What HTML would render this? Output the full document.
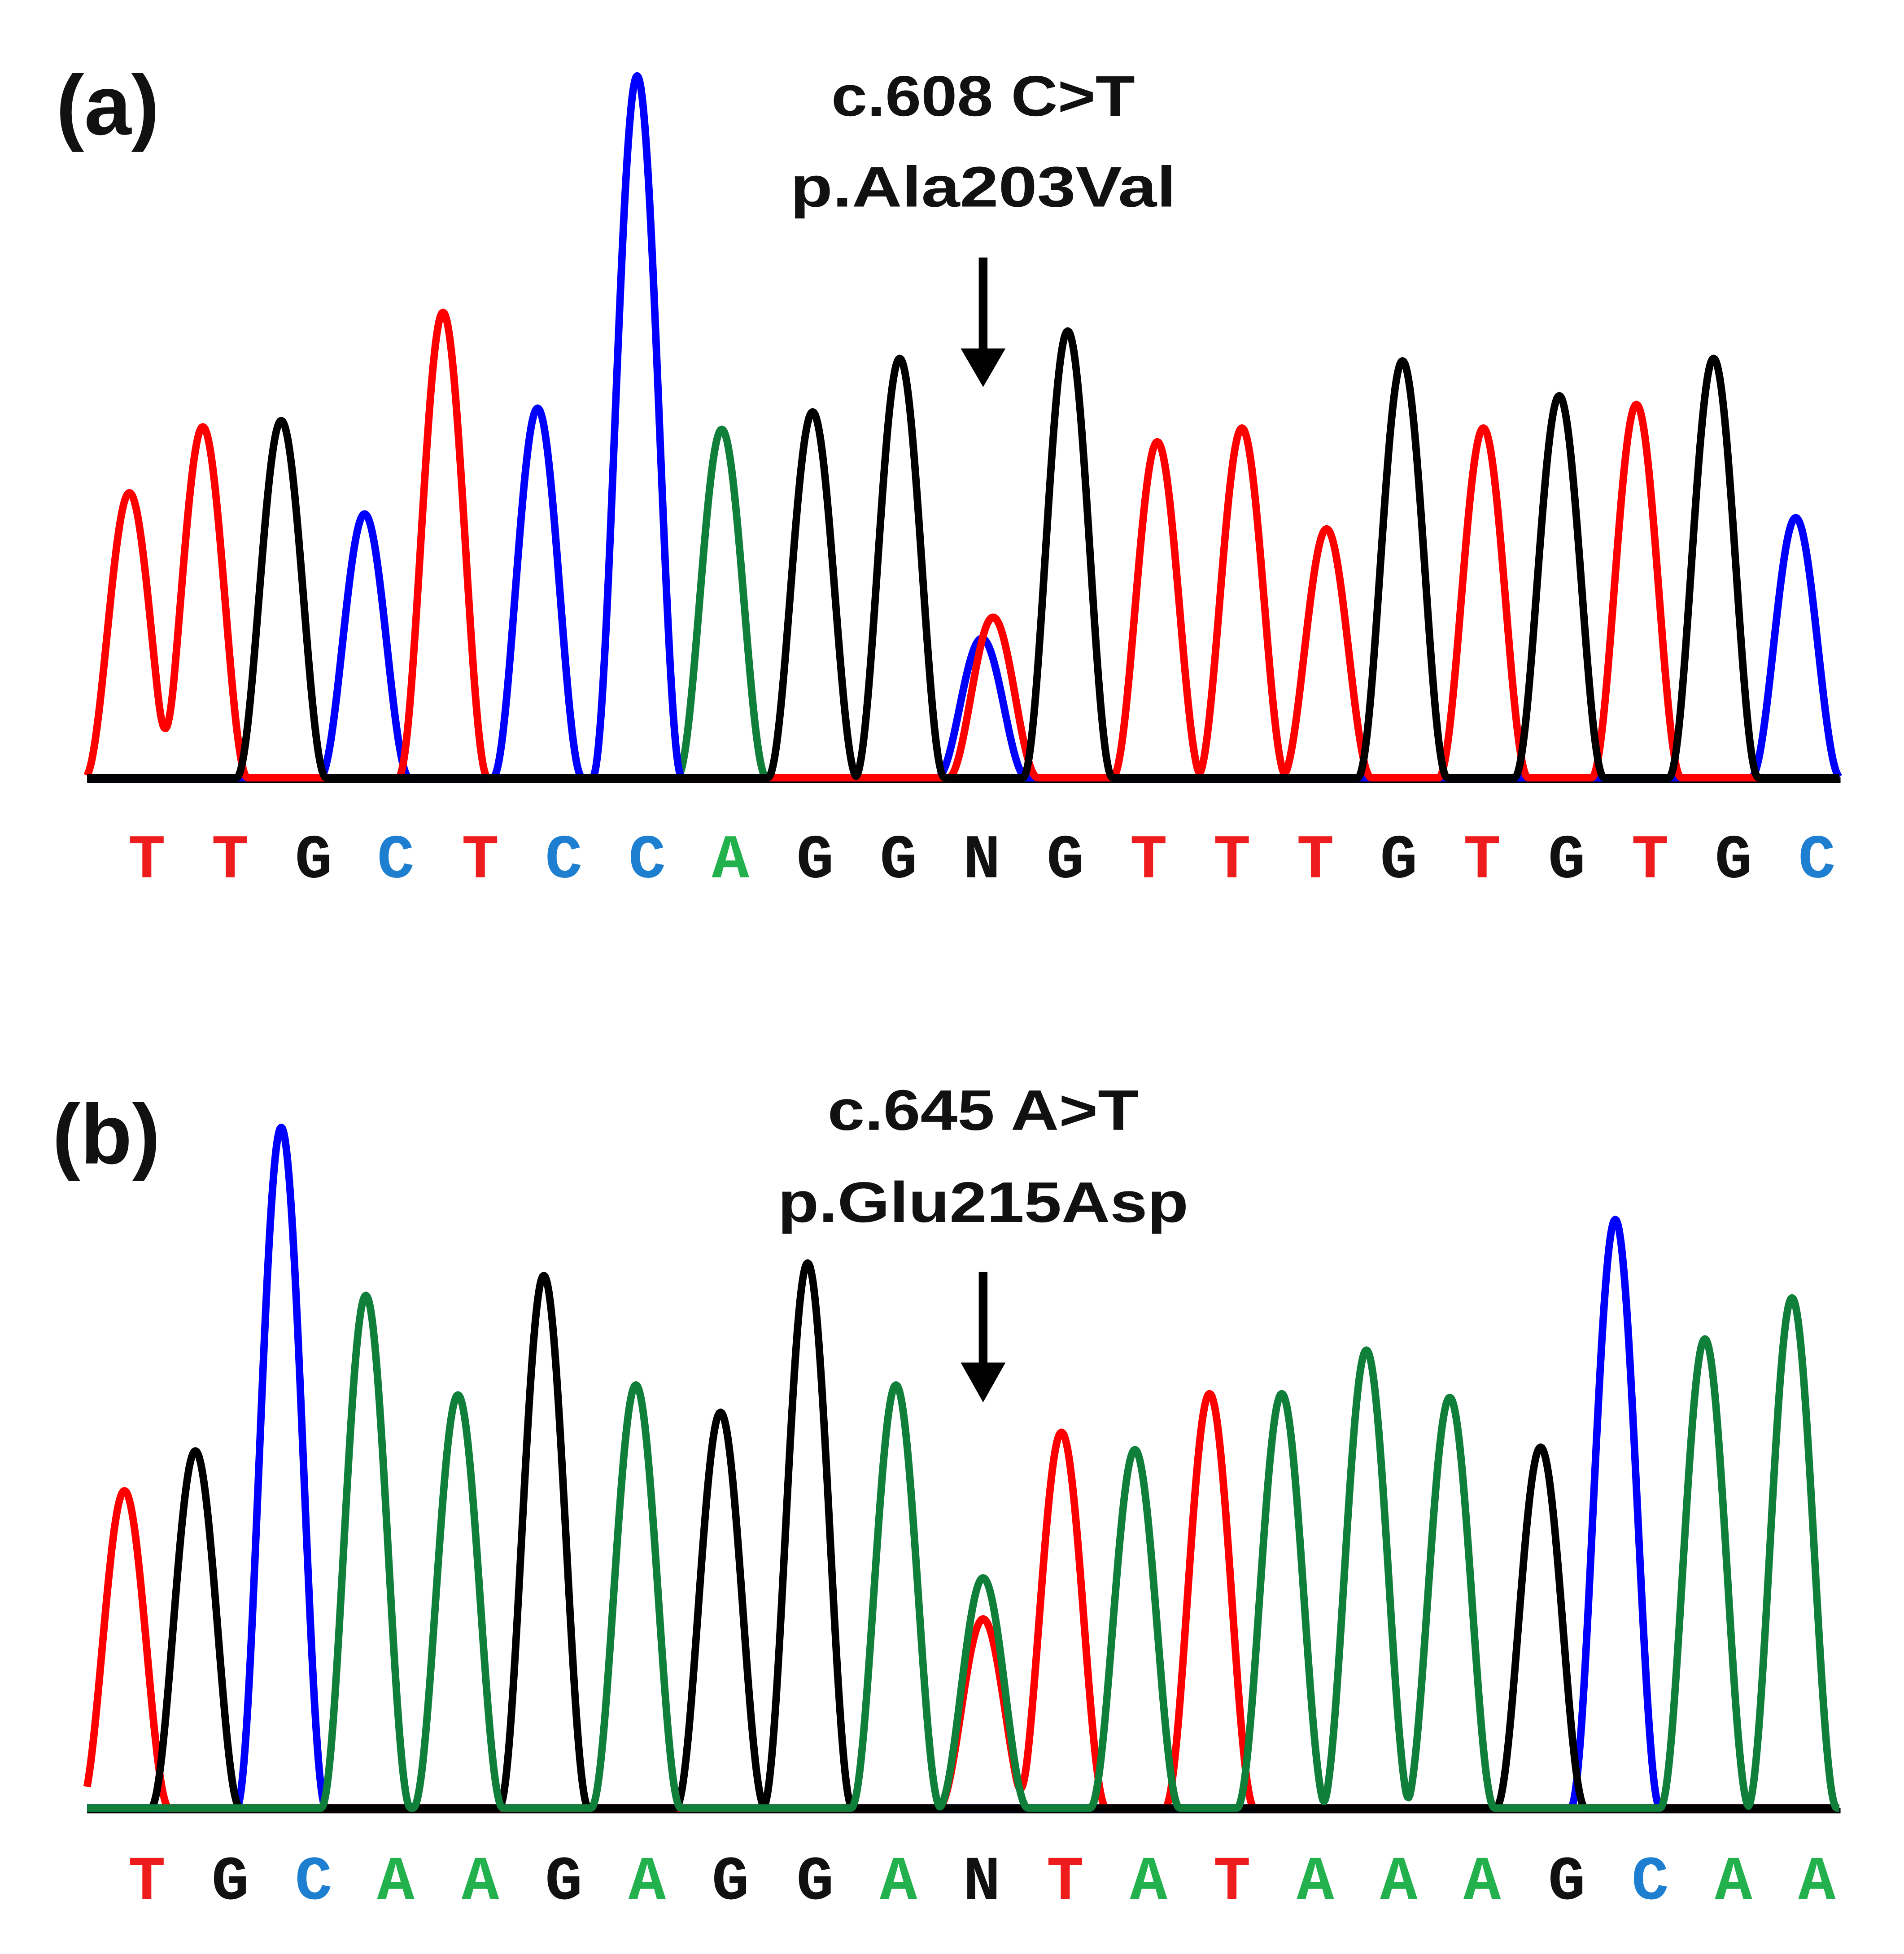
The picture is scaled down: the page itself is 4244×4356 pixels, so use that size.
<!DOCTYPE html>
<html><head><meta charset="utf-8"><style>
html,body{margin:0;padding:0;background:#fff;}
svg{display:block;}
</style></head><body>
<svg id="s" width="4244" height="4356" viewBox="0 0 1530 1570.3" preserveAspectRatio="none" xmlns="http://www.w3.org/2000/svg">
<rect width="1530" height="1571" fill="#fff"/>
<g font-family="'Liberation Sans',sans-serif" font-weight="bold" fill="#111">
<text x="45" y="108" font-size="68">(a)</text>
<text x="790" y="93" font-size="46" text-anchor="middle" textLength="244" lengthAdjust="spacingAndGlyphs">c.608 C&gt;T</text>
<text x="790" y="166" font-size="46" text-anchor="middle" textLength="310" lengthAdjust="spacingAndGlyphs">p.Ala203Val</text>
<text x="42" y="935" font-size="68">(b)</text>
<text x="790" y="908" font-size="46" text-anchor="middle" textLength="250" lengthAdjust="spacingAndGlyphs">c.645 A&gt;T</text>
<text x="790" y="982" font-size="46" text-anchor="middle" textLength="330" lengthAdjust="spacingAndGlyphs">p.Glu215Asp</text>
</g>
<g fill="#000" stroke="none">
<rect x="786.5" y="207" width="7" height="76"/>
<polygon points="772,280 808,280 790,311"/>
<rect x="786.5" y="1022" width="7" height="76"/>
<polygon points="772,1095 808,1095 790,1127"/>
</g>
<g id="tr"></g>
<g id="lab" font-family="'Liberation Mono',monospace" font-weight="bold" font-size="50" text-anchor="middle"></g>
</svg>
<script>
var C={T:'#ff0000',G:'#000000',C:'#0000ff',A:'#0f7f3a'};
var LC={T:'#ee1c1c',G:'#111111',C:'#1e7fd0',A:'#22b14c',N:'#111111'};
var A=[['T',104,398],['T',163,345],['G',226,340],['C',293,415],['T',356,253],['C',432,330],['C',512,63],['A',580,347],['G',653,333],['G',723,290],['C',789,515],['T',798,498],['G',858,268],['T',930,357],['T',998,346],['T',1066,427],['G',1127,292],['T',1192,346],['G',1253,320],['T',1315,327],['G',1377,290],['C',1443,418]];
var B=[['T',100,1200],['G',157,1168],['C',226,908],['A',294,1043],['A',368,1123],['G',437,1027],['A',511,1115],['G',579,1137],['G',649,1017],['A',720,1115],['A',790,1270],['T',790,1303],['T',853,1153],['A',912,1167],['T',972,1122],['A',1030,1122],['A',1098,1087],['A',1165,1125],['G',1238,1165],['C',1298,982],['A',1370,1078],['A',1440,1045]];
var NS='http://www.w3.org/2000/svg';
var tr=document.getElementById('tr'),lab=document.getElementById('lab');
function shape(dx){var w=36;if(Math.abs(dx)>=w)return 0;return (1+Math.cos(Math.PI*dx/w))/2;}
function panel(P,base,order){
 var bl=document.createElementNS(NS,'line');
 bl.setAttribute('x1',70);bl.setAttribute('x2',1479);bl.setAttribute('y1',base);bl.setAttribute('y2',base);
 bl.setAttribute('stroke','#000');bl.setAttribute('stroke-width',4.5);tr.appendChild(bl);
 order.forEach(function(col){
  var d='',b0=base-2;
  for(var x=70;x<=1478;x+=1){
   var v=0;P.forEach(function(p){if(p[0]==col){v+=(base-p[2])*shape(x-p[1]);}});
   d+=(x==70?'M':'L')+x+' '+(b0-v).toFixed(1);
  }
  var pa=document.createElementNS(NS,'path');
  pa.setAttribute('d',d);pa.setAttribute('fill','none');pa.setAttribute('stroke',C[col]);
  pa.setAttribute('stroke-width',6);pa.setAttribute('stroke-linejoin','round');tr.appendChild(pa);
 });
}
panel(A,627,['A','C','T','G']);
panel(B,1455,['C','T','G','A']);
function letters(s,y){
 var xs=[118,185,252,318,386,453,520,587,655,722,789,856,923,990,1057,1124,1191,1259,1326,1393,1460];
 for(var i=0;i<s.length;i++){
  var t=document.createElementNS(NS,'text');t.setAttribute('x',xs[i]);t.setAttribute('y',y);
  t.setAttribute('fill',LC[s[i]]);t.textContent=s[i];lab.appendChild(t);
 }
}
letters('TTGCTCCAGGNGTTTGTGTGC',705);
letters('TGCAAGAGGANTATAAAGCAA',1526);
</script>
</body></html>
